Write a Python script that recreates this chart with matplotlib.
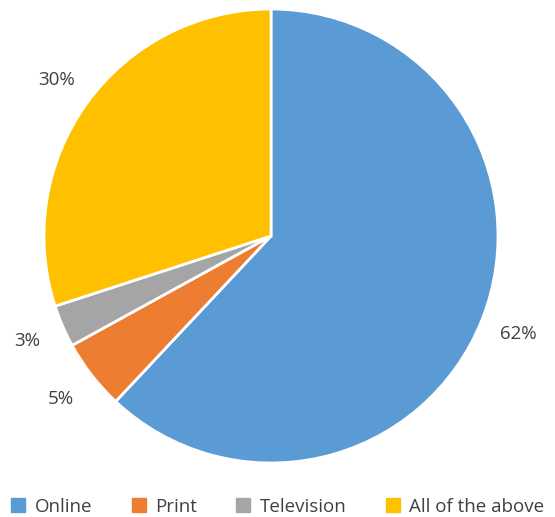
import matplotlib
matplotlib.use("Agg")
import matplotlib.pyplot as plt
from matplotlib.lines import Line2D

categories = ['Online', 'Print', 'Television', 'All of the above']
shares = [62, 5, 3, 30]
colors = ['#5B9BD5', '#ED7D31', '#A5A5A5', '#FFC000']

plt.rcParams['font.family'] = ['Open Sans', 'DejaVu Sans']
txt = '#404040'

fig = plt.figure(figsize=(5.55, 5.17), dpi=100)
ax = fig.add_axes([44/555, 54/517, 454/555, 454/517])
wedges, texts, autotexts = ax.pie(
    shares, colors=colors, startangle=90, counterclock=False,
    autopct='%1.0f%%', pctdistance=1.17, radius=1,
    wedgeprops=dict(edgecolor='white', linewidth=2),
    textprops=dict(color=txt, fontsize=13.5))
ax.set_xlim(-1, 1); ax.set_ylim(-1, 1)
ax.set_aspect('equal')

handles = [Line2D([], [], marker='s', ls='none', markersize=10, color=c) for c in colors]
fig.legend(handles, categories, loc='center', bbox_to_anchor=(0.5, 10/517), ncol=4,
           frameon=False, fontsize=13.5, labelcolor=txt, handlelength=0.8,
           handletextpad=0.45, columnspacing=2.1, borderaxespad=0)

fig.savefig("out.png", dpi=100)
